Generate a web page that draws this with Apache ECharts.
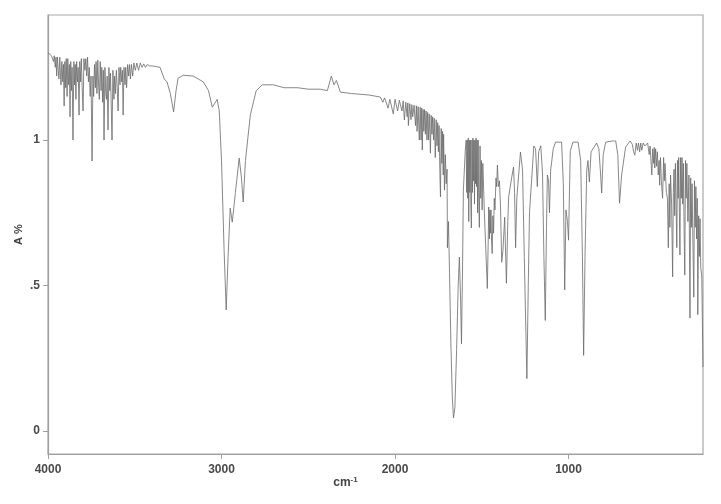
<!DOCTYPE html>
<html><head><meta charset="utf-8">
<style>html,body{margin:0;padding:0;background:#fff}#c{width:721px;height:504px}</style>
<script src="https://cdn.jsdelivr.net/npm/echarts@6/dist/echarts.min.js"></script>
</head><body><div id="c"></div>
<script>
const xTicks = [4000, 3000, 2000, 1000];
const yTicks = [0, 0.5, 1];
const yTickLabels = {0: '0', 0.5: '.5', 1: '1'};
// [wavenumber cm-1, absorbance]
const waterBandHigh = [[4000,1.30],[3990,1.295],[3980,1.29],[3972,1.295],[3968,1.27],[3964,1.29],[3958,1.25],[3954,1.285],[3950,1.22],[3946,1.285],[3941,1.24],[3937,1.21],[3932,1.285],[3928,1.22],[3925,1.19],[3920,1.27],[3915,1.2],[3911,1.26],[3907,1.117],[3903,1.27],[3898,1.18],[3895,1.28],[3890,1.15],[3886,1.28],[3881,1.19],[3877,1.26],[3873,1.08],[3869,1.27],[3864,1.17],[3861,1.25],[3856,1.0],[3851,1.27],[3847,1.19],[3843,1.26],[3839,1.14],[3835,1.27],[3830,1.2],[3826,1.25],[3821,1.086],[3817,1.27],[3812,1.2],[3808,1.28],[3803,1.18],[3798,1.10],[3793,1.28],[3787,1.24],[3782,1.28],[3777,1.22],[3772,1.285],[3767,1.20],[3762,1.25],[3757,1.15],[3752,1.22],[3746,0.928],[3741,1.22],[3737,1.15],[3732,1.26],[3727,1.18],[3723,1.27],[3718,1.16],[3713,1.275],[3708,1.18],[3704,1.14],[3699,1.27],[3694,1.17],[3690,1.25],[3685,1.13],[3681,1.24],[3677,1.0],[3672,1.25],[3667,1.16],[3663,1.14],[3659,1.22],[3654,1.035],[3649,1.25],[3644,1.17],[3640,1.23],[3636,1.13],[3631,1.0],[3626,1.24],[3620,1.14],[3616,1.22],[3611,1.16],[3606,1.24],[3601,1.18],[3596,1.10],[3591,1.25],[3585,1.19],[3581,1.25],[3575,1.2],[3571,1.24],[3567,1.086],[3562,1.25],[3556,1.19],[3552,1.25],[3547,1.18],[3541,1.26],[3535,1.22],[3530,1.26],[3525,1.21],[3519,1.26],[3512,1.22],[3505,1.265],[3497,1.24],[3488,1.265],[3478,1.24],[3468,1.265],[3458,1.25],[3448,1.262],[3438,1.25],[3428,1.26],[3415,1.255],[3400,1.255]];
const chStretch = [[3354,1.25],[3330,1.21],[3314,1.2],[3295,1.16],[3276,1.097],[3262,1.17],[3250,1.213],[3220,1.223],[3163,1.22],[3105,1.2],[3075,1.17],[3053,1.113],[3025,1.14],[3013,1.10],[3000,0.93],[2985,0.62],[2973,0.416],[2962,0.6],[2950,0.766],[2938,0.718],[2920,0.82],[2898,0.938],[2885,0.87],[2875,0.787],[2862,0.93],[2834,1.086],[2800,1.17],[2765,1.19],[2700,1.19],[2640,1.18],[2560,1.18],[2500,1.175],[2430,1.175],[2390,1.17],[2367,1.22],[2352,1.19],[2338,1.205],[2315,1.165],[2250,1.16],[2150,1.155]];
const overtoneBand = [[2085,1.148],[2070,1.13],[2060,1.145],[2040,1.11],[2030,1.14],[2010,1.09],[2000,1.14],[1985,1.10],[1975,1.137],[1960,1.10],[1953,1.135],[1946,1.069],[1938,1.13],[1930,1.08],[1926,1.128],[1923,1.05],[1915,1.125],[1908,1.07],[1903,1.122],[1898,1.08],[1890,1.12],[1882,1.05],[1877,1.118],[1873,1.03],[1867,1.115],[1860,1.0],[1855,1.113],[1850,1.0],[1846,1.11],[1843,0.966],[1838,1.105],[1834,1.03],[1830,1.105],[1825,1.02],[1821,1.10],[1816,1.0],[1812,1.095],[1807,1.0],[1803,1.09],[1799,1.02],[1796,0.955],[1792,1.085],[1787,1.02],[1783,1.08],[1778,1.0],[1774,1.075],[1770,0.99],[1768,0.94],[1763,1.07],[1758,0.98],[1754,1.06],[1750,0.96],[1746,1.05],[1742,0.9],[1738,0.805],[1734,1.04],[1730,0.92],[1726,1.03],[1722,0.88],[1720,1.02],[1715,0.828],[1710,0.95],[1705,0.85],[1700,0.9],[1698,0.63],[1692,0.72],[1686,0.546]];
const carbonylBand = [[1678,0.3],[1670,0.12],[1663,0.045],[1655,0.08],[1645,0.28],[1636,0.5],[1629,0.598],[1622,0.45],[1617,0.30],[1611,0.55],[1606,0.828],[1595,0.966]];
const midBand = [[1590,1.0],[1587,0.82],[1584,1.0],[1581,0.8],[1578,1.007],[1575,0.72],[1572,1.0],[1569,0.82],[1566,1.0],[1563,0.78],[1560,0.698],[1557,1.0],[1554,0.82],[1551,1.007],[1548,0.86],[1545,1.0],[1542,0.78],[1539,1.0],[1536,0.85],[1533,1.007],[1530,0.84],[1527,1.0],[1524,0.75],[1521,1.0],[1518,0.82],[1514,0.70],[1510,0.98],[1506,0.8],[1502,0.93],[1498,0.76],[1494,0.92],[1485,0.75],[1468,0.49],[1463,0.65],[1460,0.77],[1456,0.66],[1453,0.76],[1450,0.68],[1447,0.76],[1444,0.66],[1440,0.61],[1436,0.74],[1432,0.68],[1428,0.8],[1424,0.76],[1418,0.87],[1414,0.84],[1410,0.914],[1404,0.84],[1398,0.86],[1392,0.77],[1385,0.58],[1378,0.62],[1368,0.735],[1358,0.508],[1350,0.72],[1345,0.805],[1328,0.87],[1317,0.907],[1311,0.82],[1305,0.63],[1298,0.8],[1277,0.959],[1265,0.897],[1255,0.6],[1240,0.18],[1232,0.5],[1225,0.75],[1200,0.98],[1190,0.97],[1180,0.84],[1172,0.96],[1160,0.98],[1150,0.887],[1142,0.6],[1134,0.38],[1127,0.7],[1122,0.88],[1115,0.86],[1110,0.75],[1103,0.897],[1088,0.97],[1075,0.993],[1040,0.993],[1030,0.85],[1022,0.485],[1015,0.76],[1006,0.72],[1000,0.656],[990,0.96],[975,0.993],[945,0.993],[930,0.93],[920,0.6],[913,0.26],[905,0.6],[895,0.897],[888,0.93],[880,0.856],[870,0.96],[838,0.99],[825,0.97],[815,0.88],[809,0.818],[800,0.95],[786,0.993],[745,0.997]];
const fingerprintBand = [[728,0.997],[716,0.95],[706,0.783],[694,0.88],[671,0.976],[645,0.997],[632,0.985],[625,0.96],[618,0.948],[610,0.99],[603,0.965],[597,0.99],[590,0.96],[584,0.99],[578,0.965],[570,0.99],[560,0.98],[544,0.99],[535,0.95],[530,0.98],[520,0.88],[515,0.97],[510,0.92],[506,0.975],[503,0.904],[498,0.97],[493,0.91],[488,0.96],[483,0.88],[478,0.93],[475,0.845],[470,0.94],[465,0.86],[458,0.80],[452,0.94],[448,0.86],[444,0.92],[436,0.82],[430,0.8],[425,0.63],[420,0.85],[416,0.7],[412,0.88],[406,0.78],[400,0.53],[396,0.82],[392,0.9],[388,0.74],[384,0.92],[380,0.78],[376,0.63],[372,0.93],[368,0.8],[365,0.94],[361,0.75],[358,0.605],[354,0.94],[350,0.8],[346,0.94],[342,0.78],[338,0.92],[334,0.7],[330,0.536],[326,0.93],[322,0.8],[318,0.92],[312,0.72],[306,0.88],[300,0.388],[296,0.87],[292,0.7],[288,0.85],[284,0.68],[278,0.46],[274,0.86],[270,0.7],[266,0.84],[262,0.66],[258,0.8],[255,0.40],[250,0.74],[246,0.6],[242,0.73],[238,0.563],[232,0.53],[225,0.22]];

const spectrum = [].concat(waterBandHigh, chStretch, overtoneBand, carbonylBand, midBand, fingerprintBand);

const chart = echarts.init(document.getElementById('c'), null, {renderer: 'canvas'});
const font = '"Liberation Sans", Arial, sans-serif';
chart.setOption({
  animation: false,
  backgroundColor: '#fff',
  grid: {left: 48, right: 18, top: 15, bottom: 50, show: true, borderColor: '#a8a8a8', borderWidth: 1.2},
  xAxis: {
    type: 'value', inverse: true, min: 225, max: 4000,
    splitLine: {show: false},
    axisLine: {onZero: false, lineStyle: {color: '#a0a0a0', width: 1.2}},
    axisTick: {customValues: xTicks, length: 5, lineStyle: {color: '#a0a0a0'}},
    axisLabel: {customValues: xTicks, color: '#4a4a4a', fontFamily: font, fontSize: 12, fontWeight: 'bold', margin: 10, formatter: v => String(v)},
    name: '{a|cm}{b|-1}', nameLocation: 'middle', nameGap: 22, nameMoveOverlap: false,
    nameTextStyle: {padding: [0, 60, 0, 0], rich: {
      a: {fontFamily: font, fontSize: 12, fontWeight: 'bold', color: '#444'},
      b: {fontFamily: font, fontSize: 8, fontWeight: 'bold', color: '#444', verticalAlign: 'top', padding: [0, 0, 5, 0]}
    }}
  },
  yAxis: {
    type: 'value', min: -0.079, max: 1.43,
    splitLine: {show: false},
    axisLine: {lineStyle: {color: '#a0a0a0', width: 1.2}},
    axisTick: {customValues: yTicks, length: 5, lineStyle: {color: '#a0a0a0'}},
    axisLabel: {customValues: yTicks, color: '#4a4a4a', fontFamily: font, fontSize: 12, fontWeight: 'bold', margin: 8, formatter: v => yTickLabels[v]},
    name: 'A %', nameLocation: 'middle', nameGap: 24, nameRotate: 90, nameMoveOverlap: false,
    nameTextStyle: {fontFamily: font, fontSize: 11, fontWeight: 'bold', color: '#444'}
  },
  series: [{
    type: 'line', data: spectrum, showSymbol: false, smooth: false, silent: true,
    lineStyle: {color: '#6a6a6a', width: 0.8}
  }]
});
</script></body></html>
